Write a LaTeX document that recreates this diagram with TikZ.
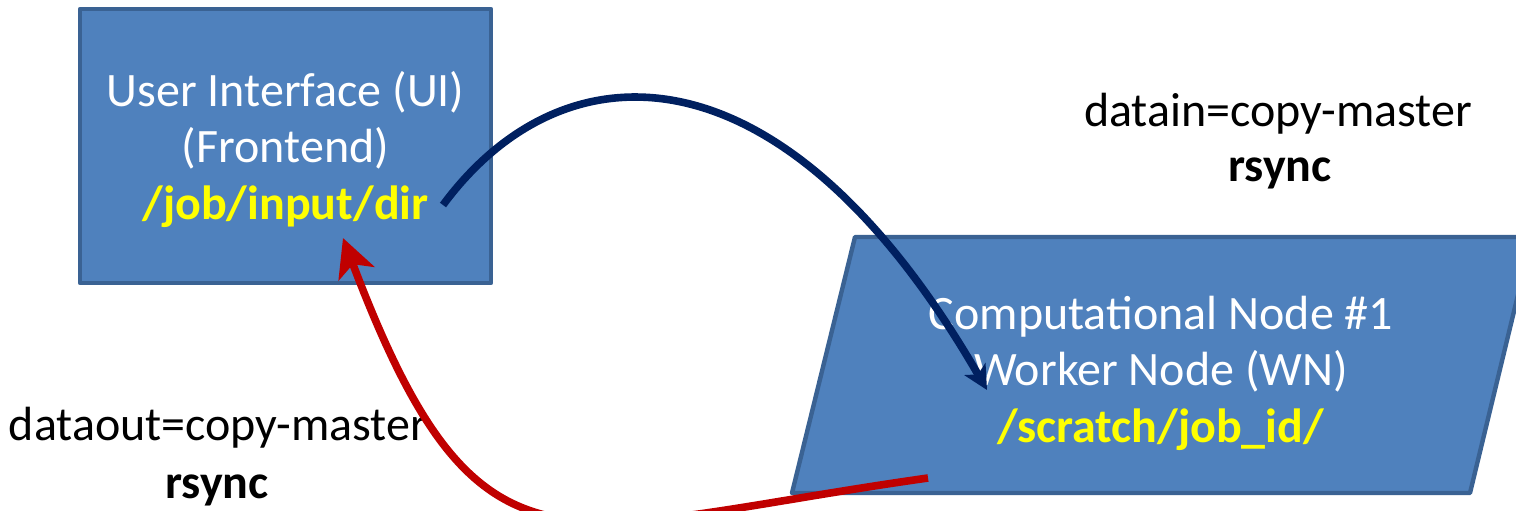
\documentclass[tikz,border=0pt]{standalone}
\usepackage{fontspec}
\setmainfont{Carlito}
\usetikzlibrary{arrows.meta}
\definecolor{boxfill}{HTML}{4F81BD}
\definecolor{boxline}{HTML}{3A6293}
\definecolor{navyline}{HTML}{002060}
\definecolor{redline}{HTML}{C00000}
\definecolor{pathyellow}{HTML}{FFFF00}
\tikzset{
  shapebox/.style={fill=boxfill, draw=boxline, line width=2.2pt, line join=round},
  boxtext/.style={text=white, align=center, inner sep=0pt, font=\fontsize{24}{28.25}\selectfont},
  lbl/.style={text=black, inner sep=0pt, font=\fontsize{24}{28.25}\selectfont},
  bluearrow/.style={draw=navyline, line width=3.8pt, -{Stealth[length=12pt, width=12pt, inset=3pt]}},
  redarrow/.style={draw=redline, line width=3.8pt, -{Stealth[length=19pt, width=19pt, inset=5pt]}},
}
\begin{document}
\begin{tikzpicture}[x=0.5pt, y=-0.5pt]
\useasboundingbox (0,0) rectangle (1516,510);
\clip (0,0) rectangle (1516,510);

% UI box
\node[shapebox, minimum width=205.5pt, minimum height=137pt, inner sep=0pt] (ui) at (285.5,146) {};
\node[boxtext] (uitext) at (285.5,149) {User Interface (UI)\\(Frontend)\\\textcolor{pathyellow}{\textbf{/job/input/dir}}};

% Worker node parallelogram
\coordinate (wnbl) at (792,493);
\coordinate (wntl) at (855,237);
\coordinate (wntr) at (1532,237);
\coordinate (wnbr) at (1470,493);
\draw[shapebox] (wnbl) -- (wntl) -- (wntr) -- (wnbr) -- cycle;
\node[boxtext] (wntext) at (1161,373) {Computational Node \#1\\Worker Node (WN)\\\textcolor{pathyellow}{\textbf{/scratch/job\_id/}}};

% labels
\node[lbl, anchor=base] (din) at (1278,126.7) {datain=copy-master};
\node[lbl, anchor=base] (dinr) at (1280,181.7) {\textbf{rsync}};
\node[lbl, anchor=base] (dout) at (218,440) {dataout=copy-master};
\node[lbl, anchor=base] (doutr) at (217,498) {\textbf{rsync}};

% connectors
\coordinate (bs) at (443,205);
\coordinate (be) at (987,390);
\coordinate (rs) at (928,478);
\coordinate (re) at (343,238);
\draw[bluearrow] (bs) .. controls (565,40) and (785,40) .. (be);
\draw[redarrow] (rs) .. controls (560,530) and (480,600) .. (re);
\end{tikzpicture}
\end{document}
